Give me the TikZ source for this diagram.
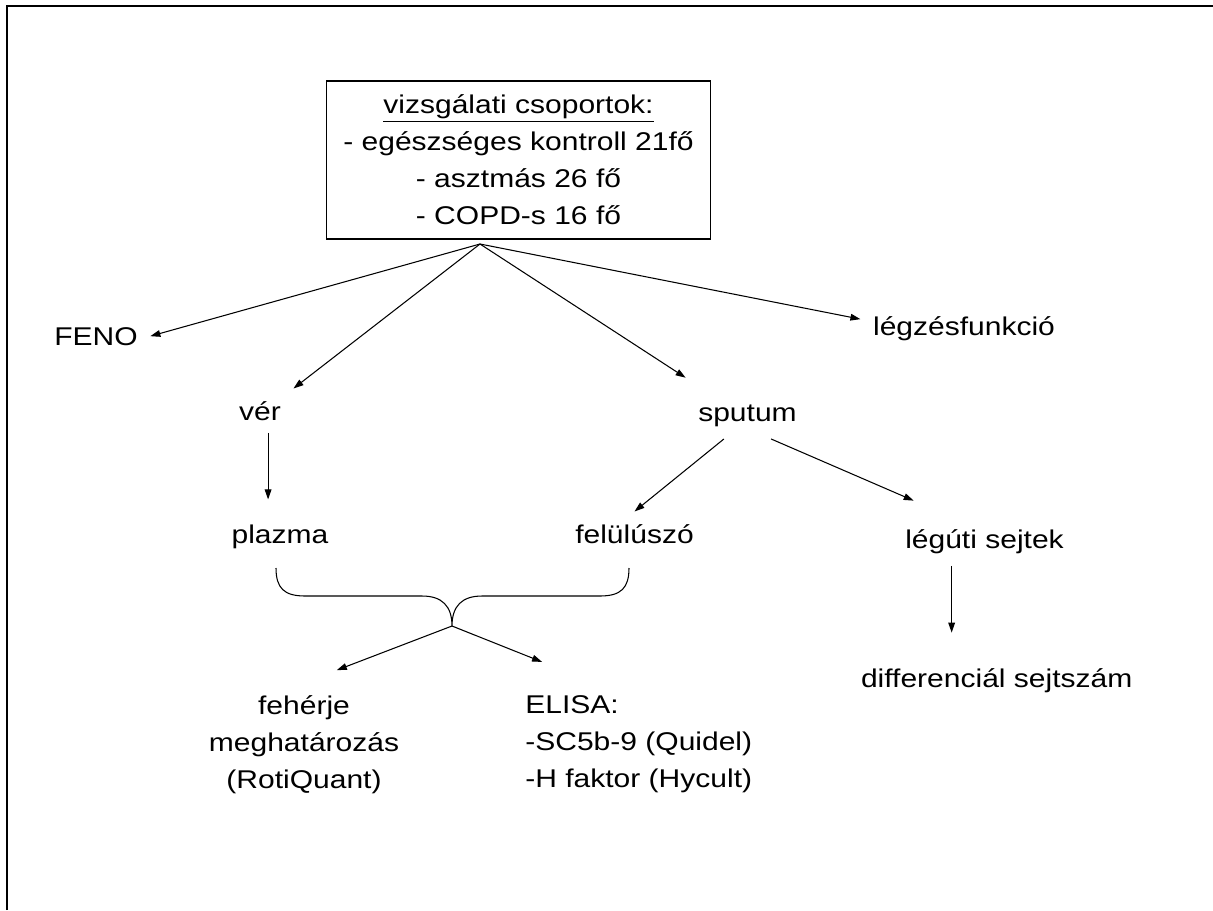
\documentclass[tikz,border=0pt]{standalone}
\usepackage{fontspec}
\setmainfont{Liberation Sans}[FakeStretch=1.17]
\usetikzlibrary{arrows.meta}

\begin{document}
\begin{tikzpicture}[x=0.02cm, y=-0.02cm, >={Triangle[length=5.7pt,width=3.8pt]},
  every node/.style={font=\fontsize{14.6}{21}\selectfont, inner sep=7pt},
  groupbox/.style={draw, line width=0.6pt, align=center, inner sep=0pt,
    minimum width=7.7cm, minimum height=3.16cm},
  arr/.style={->, line width=0.6pt}]
  \useasboundingbox (0,0) rectangle (1213,910);
  \draw[line width=1.3pt] (7.3,910) -- (7.3,5.7) -- (1213,5.7);

  % groups
  \node[groupbox] (groups) at (518.5,160) {\underline{vizsgálati csoportok:}\\
    - egészséges kontroll 21fő\\ - asztmás 26 fő\\ - COPD-s 16 fő};
  \coordinate (hub) at (480,244);

  \node[anchor=base] (feno) at (96,345) {FENO};
  \node[anchor=base] (legz) at (964,335) {légzésfunkció};
  \node[anchor=base] (ver) at (260,420) {vér};
  \node[anchor=base] (sputum) at (747.5,421) {sputum};
  \node[anchor=base] (plazma) at (280,543) {plazma};
  \node[anchor=base] (felul) at (634.5,543) {felülúszó};
  \node[anchor=base] (leguti) at (984.5,548) {légúti sejtek};
  \node[anchor=base] (diff) at (996.7,687) {differenciál sejtszám};
  \node[anchor=north, align=center] (feher) at (304,682.7)
    {fehérje\\ meghatározás\\ (RotiQuant)};
  \node[anchor=north west, align=left] (elisa) at (512.7,683.4)
    {ELISA:\\ -SC5b-9 (Quidel)\\ -H faktor (Hycult)};

  \draw[arr] (hub) -- (feno.east);
  \draw[arr] (hub) -- (legz.175);
  \draw[arr] (hub) -- (ver.north east);
  \draw[arr] (hub) -- ([yshift=8pt]sputum.north west);
  \draw[arr, shorten >=7pt] (ver.-70) -- (ver.-70 |- plazma.north);
  \draw[arr] (sputum.-135) -- (felul.north);
  \draw[arr] (sputum.-45) -- ([xshift=12pt,yshift=9pt]leguti.north west);
  \draw[arr, shorten >=13pt] (leguti.-143) -- (leguti.-143 |- diff.north);

  % brace under plazma and felulusz
  \coordinate (tip) at (452,626);
  \draw[line width=0.6pt] (276,568) .. controls (276,588) and (284,596) .. (305,596)
    -- (422,596) .. controls (442,596) and (452,606) .. (tip)
    .. controls (452,606) and (462,596) .. (482,596)
    -- (600,596) .. controls (621,596) and (629,588) .. (629,568);
  \draw[arr, shorten >=20pt] (tip) -- (feher.north);
  \draw[arr, shorten >=33pt] (tip) -- (elisa.125);
\end{tikzpicture}
\end{document}
